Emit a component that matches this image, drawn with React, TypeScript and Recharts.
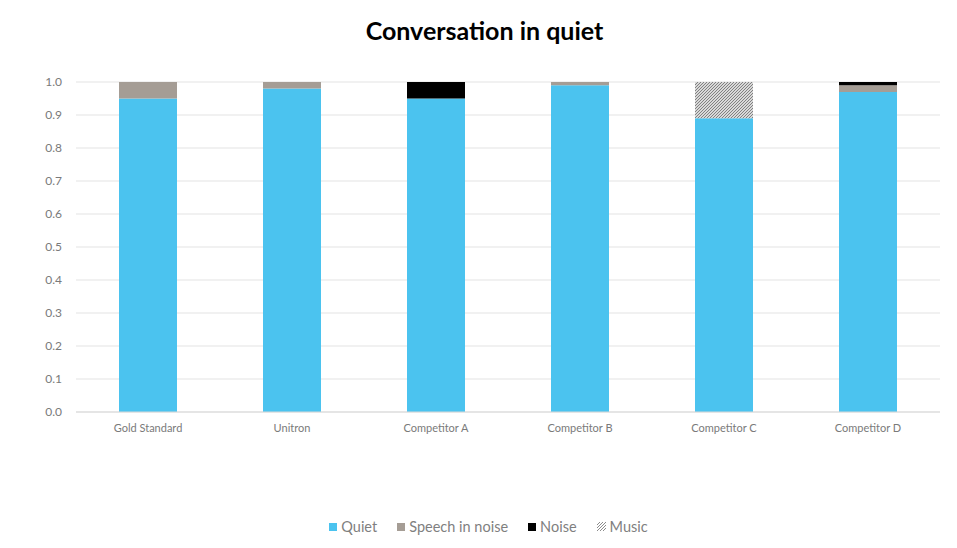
import { BarChart, Bar, XAxis, YAxis, CartesianGrid } from 'recharts';

const categories = ['Gold Standard', 'Unitron', 'Competitor A', 'Competitor B', 'Competitor C', 'Competitor D'];
const quiet = [0.95, 0.98, 0.95, 0.99, 0.89, 0.97];
const speechInNoise = [0.05, 0.02, 0, 0.01, 0, 0.02];
const noise = [0, 0, 0.05, 0, 0, 0.01];
const music = [0, 0, 0, 0, 0.11, 0];
const yTicks = [0, 0.1, 0.2, 0.3, 0.4, 0.5, 0.6, 0.7, 0.8, 0.9, 1.0];

const series = [
  { key: 'quiet', name: 'Quiet', fill: '#4bc3ef' },
  { key: 'speech', name: 'Speech in noise', fill: '#a59d95' },
  { key: 'noise', name: 'Noise', fill: '#000000' },
  { key: 'music', name: 'Music', fill: 'url(#hatch)' },
];

const data = categories.map((name, i) => ({
  name,
  quiet: quiet[i],
  speech: speechInNoise[i],
  noise: noise[i],
  music: music[i],
}));

const font = 'Lato, "Open Sans", sans-serif';

function LegendRow() {
  return (
    <div
      style={{
        position: 'absolute',
        top: 518,
        left: 0,
        width: 957,
        display: 'flex',
        justifyContent: 'center',
        gap: 20,
        fontFamily: font,
        fontSize: 14.5,
        color: '#7f7f7f',
        paddingLeft: 20,
        boxSizing: 'border-box',
      }}
    >
      {series.map((s) => (
        <div key={s.key} style={{ display: 'flex', alignItems: 'center', gap: 4 }}>
          {s.key === 'music' ? (
            <svg width={9} height={9}>
              <path d="M0,3 L3,0 M0,6 L6,0 M0,9 L9,0 M3,9 L9,3 M6,9 L9,6" stroke="#8c8c8c" strokeWidth={1} />
            </svg>
          ) : (
            <div style={{ width: 8, height: 8, background: s.fill }} />
          )}
          <span>{s.name}</span>
        </div>
      ))}
    </div>
  );
}

export default function App() {
  return (
    <div style={{ position: 'relative', width: 957, height: 548, margin: -8, background: '#fff' }}>
      <div
        style={{
          position: 'absolute',
          left: 4,
          top: 4,
          width: 950,
          height: 540,
          border: '1px solid #d8d8d8',
          boxSizing: 'border-box',
        }}
      />
      <div
        style={{
          position: 'absolute',
          top: 15,
          left: 0,
          width: 957,
          textAlign: 'center',
          fontFamily: font,
          fontWeight: 700,
          fontSize: 25,
          color: '#000',
          paddingLeft: 12,
          boxSizing: 'border-box',
        }}
      >
        Conversation in quiet
      </div>
      <div style={{ position: 'absolute', left: 0, top: 0 }}>
        <BarChart
          width={957}
          height={548}
          data={data}
          margin={{ top: 82, right: 17, left: 0, bottom: 106 }}
          barSize={58}
        >
          <defs>
            <pattern id="hatch" patternUnits="userSpaceOnUse" width={3} height={3}>
              <rect width={3} height={3} fill="#ffffff" />
              <path d="M-1,1 L1,-1 M0,3 L3,0 M2,4 L4,2" stroke="#7a7a7a" strokeWidth={1.1} />
            </pattern>
          </defs>
          <CartesianGrid vertical={false} stroke="#e3e3e3" />
          <XAxis
            dataKey="name"
            height={30}
            axisLine={{ stroke: '#d9d9d9' }}
            tickLine={false}
            tickMargin={6}
            tick={{ fontSize: 11, fill: '#7a7a7a', fontFamily: font }}
          />
          <YAxis
            width={76}
            domain={[0, 1]}
            ticks={yTicks}
            axisLine={false}
            tickLine={false}
            tickMargin={8}
            tickFormatter={(v: number) => v.toFixed(1)}
            tick={{ fontSize: 12, fill: '#7a7a7a', fontFamily: font }}
          />
          {series.map((s) => (
            <Bar key={s.key} dataKey={s.key} name={s.name} stackId="a" fill={s.fill} isAnimationActive={false} />
          ))}
        </BarChart>
      </div>
      <LegendRow />
    </div>
  );
}
